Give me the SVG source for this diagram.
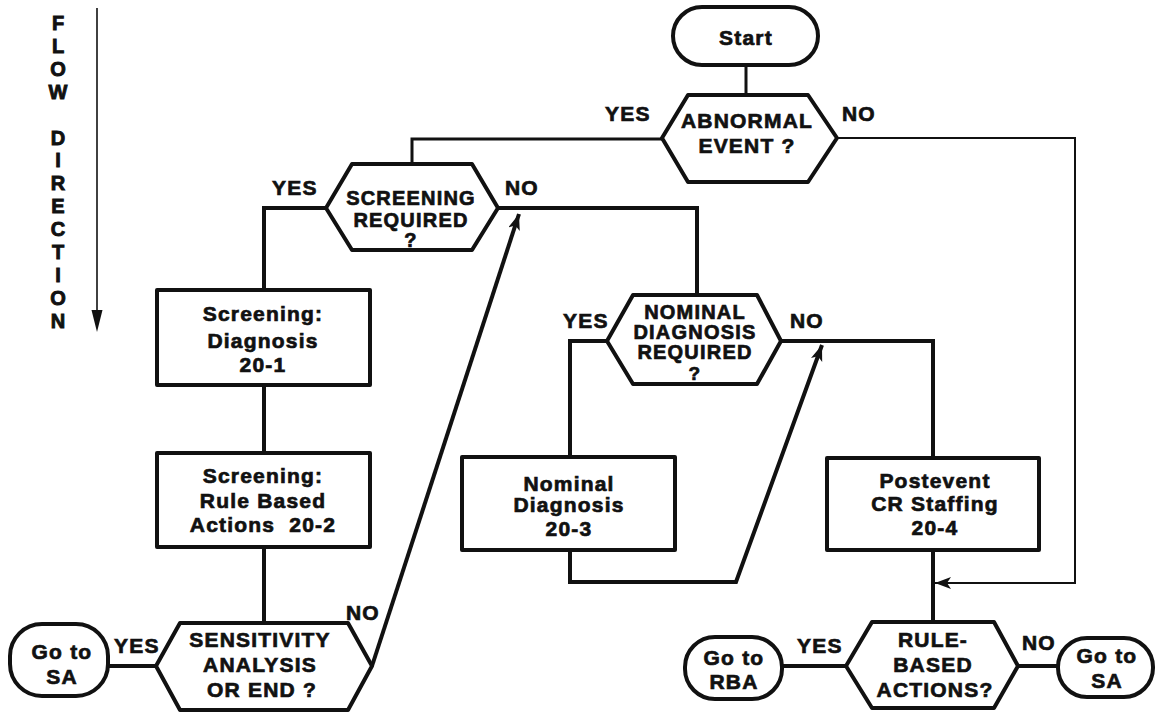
<svg xmlns="http://www.w3.org/2000/svg" width="1156" height="715" viewBox="0 0 1156 715">
<defs>
<style>
.t{font-family:"Liberation Sans",Arial,sans-serif;font-weight:bold;font-size:21px;letter-spacing:1.2px;fill:#111;stroke:#111;stroke-width:0.7px;text-anchor:middle}
.n{font-size:20px}
.l{font-family:"Liberation Sans",Arial,sans-serif;font-weight:bold;font-size:21px;letter-spacing:1.2px;fill:#111;stroke:#111;stroke-width:0.7px}
.f{font-family:"Liberation Sans",Arial,sans-serif;font-weight:bold;font-size:20px;fill:#111;stroke:#111;stroke-width:0.9px;text-anchor:middle}
.s{fill:#fff;stroke:#111;stroke-width:4;stroke-linejoin:round}
.c{fill:none;stroke:#111;stroke-width:4;stroke-linejoin:miter}
.thin{fill:none;stroke:#111;stroke-width:2}
</style>
<marker id="ah" markerUnits="userSpaceOnUse" markerWidth="18" markerHeight="14" refX="16" refY="6" orient="auto">
<path d="M0,0 L16,6 L0,12 L4,6 z" fill="#111"/>
</marker>
</defs>
<rect width="1156" height="715" fill="#fff"/>

<g id="flow-direction">
<text class="f" x="58" y="30">F</text>
<text class="f" x="58" y="53">L</text>
<text class="f" x="58" y="76">O</text>
<text class="f" x="58" y="99">W</text>
<text class="f" x="58" y="145">D</text>
<text class="f" x="58" y="167">I</text>
<text class="f" x="58" y="190">R</text>
<text class="f" x="58" y="213">E</text>
<text class="f" x="58" y="236">C</text>
<text class="f" x="58" y="259">T</text>
<text class="f" x="58" y="282">I</text>
<text class="f" x="58" y="305">O</text>
<text class="f" x="58" y="328">N</text>
<line x1="97" y1="8" x2="97" y2="312" stroke="#111" stroke-width="1.6"/>
<polygon points="91.5,310 102.5,310 97,332" fill="#111"/>
</g>

<g id="connectors">
<path class="c" d="M746,65 V95" style="stroke-width:3"/>
<path class="c" d="M662,139 H412 V164" style="stroke-width:3"/>
<path class="thin" d="M837,138 H1075 V583 H935" marker-end="url(#ah)"/>
<path class="c" d="M326,208 H264 V290"/>
<path class="c" d="M264,385 V453"/>
<path class="c" d="M264,547 V623"/>
<path class="c" d="M156,666 H108"/>
<path class="c" d="M372,666 L519,214" marker-end="url(#ah)"/>
<path class="c" d="M498,208 H697 V295"/>
<path class="c" d="M607,341 H570 V457"/>
<path class="c" d="M570,550 V582 H736 L822,345" marker-end="url(#ah)"/>
<path class="c" d="M781,341 H933 V458"/>
<path class="c" d="M933,550 V622"/>
<path class="c" d="M846,666 H782"/>
<path class="c" d="M1018,666 H1058"/>
</g>

<g id="start">
<rect class="s" x="673" y="7" width="145" height="58" rx="29"/>
<text class="t" x="746" y="45">Start</text>
</g>

<g id="abnormal-event">
<polygon class="s" points="688,95 808,95 837,138 808,182 688,182 662,138"/>
<text class="t" x="747" y="128">ABNORMAL</text>
<text class="t" x="747" y="153">EVENT ?</text>
<text class="l" x="605" y="121">YES</text>
<text class="l" x="842" y="121">NO</text>
</g>

<g id="screening-required">
<polygon class="s" points="352,164 472,164 498,208 472,250 352,250 326,208"/>
<text class="t n" x="411" y="205">SCREENING</text>
<text class="t n" x="411" y="227">REQUIRED</text>
<text class="t n" x="411" y="247">?</text>
<text class="l" x="272" y="195">YES</text>
<text class="l" x="505" y="195">NO</text>
</g>

<g id="screening-diagnosis">
<rect class="s" x="157" y="290" width="213" height="95"/>
<text class="t" x="263" y="321">Screening:</text>
<text class="t" x="263" y="348">Diagnosis</text>
<text class="t" x="263" y="372">20-1</text>
</g>

<g id="screening-rba">
<rect class="s" x="157" y="453" width="213" height="94"/>
<text class="t" x="263" y="483">Screening:</text>
<text class="t" x="263" y="508">Rule Based</text>
<text class="t" x="263" y="532" style="white-space:pre">Actions  20-2</text>
</g>

<g id="sensitivity-analysis">
<polygon class="s" points="180,623 348,623 372,666 348,710 180,710 156,666"/>
<text class="t" x="260" y="647">SENSITIVITY</text>
<text class="t" x="260" y="672">ANALYSIS</text>
<text class="t" x="262" y="697">OR END ?</text>
<text class="l" x="114" y="653">YES</text>
<text class="l" x="346" y="620">NO</text>
</g>

<g id="goto-sa-left">
<rect class="s" x="10" y="624" width="98" height="72" rx="32"/>
<text class="t" x="62" y="659">Go to</text>
<text class="t" x="62" y="684">SA</text>
</g>

<g id="nominal-required">
<polygon class="s" points="633,295 757,295 781,341 757,384 633,384 607,341"/>
<text class="t n" x="695" y="319">NOMINAL</text>
<text class="t n" x="695" y="339">DIAGNOSIS</text>
<text class="t n" x="695" y="359">REQUIRED</text>
<text class="t n" x="695" y="380" style="font-size:19px">?</text>
<text class="l" x="563" y="328">YES</text>
<text class="l" x="790" y="328">NO</text>
</g>

<g id="nominal-diagnosis">
<rect class="s" x="462" y="457" width="213" height="93"/>
<text class="t" x="569" y="491">Nominal</text>
<text class="t" x="569" y="512">Diagnosis</text>
<text class="t" x="569" y="536">20-3</text>
</g>

<g id="postevent">
<rect class="s" x="827" y="458" width="212" height="92"/>
<text class="t" x="935" y="488">Postevent</text>
<text class="t" x="935" y="511">CR Staffing</text>
<text class="t" x="935" y="535">20-4</text>
</g>

<g id="rule-based-actions">
<polygon class="s" points="872,622 994,622 1018,666 994,708 872,708 846,666"/>
<text class="t" x="933" y="647">RULE-</text>
<text class="t" x="933" y="672">BASED</text>
<text class="t" x="935" y="697">ACTIONS?</text>
<text class="l" x="797" y="653">YES</text>
<text class="l" x="1022" y="650">NO</text>
</g>

<g id="goto-rba">
<rect class="s" x="685" y="637" width="97" height="62" rx="30"/>
<text class="t" x="734" y="665">Go to</text>
<text class="t" x="734" y="689">RBA</text>
</g>

<g id="goto-sa-right">
<rect class="s" x="1058" y="638" width="95" height="59" rx="29"/>
<text class="t" x="1107" y="663">Go to</text>
<text class="t" x="1107" y="688">SA</text>
</g>
</svg>
